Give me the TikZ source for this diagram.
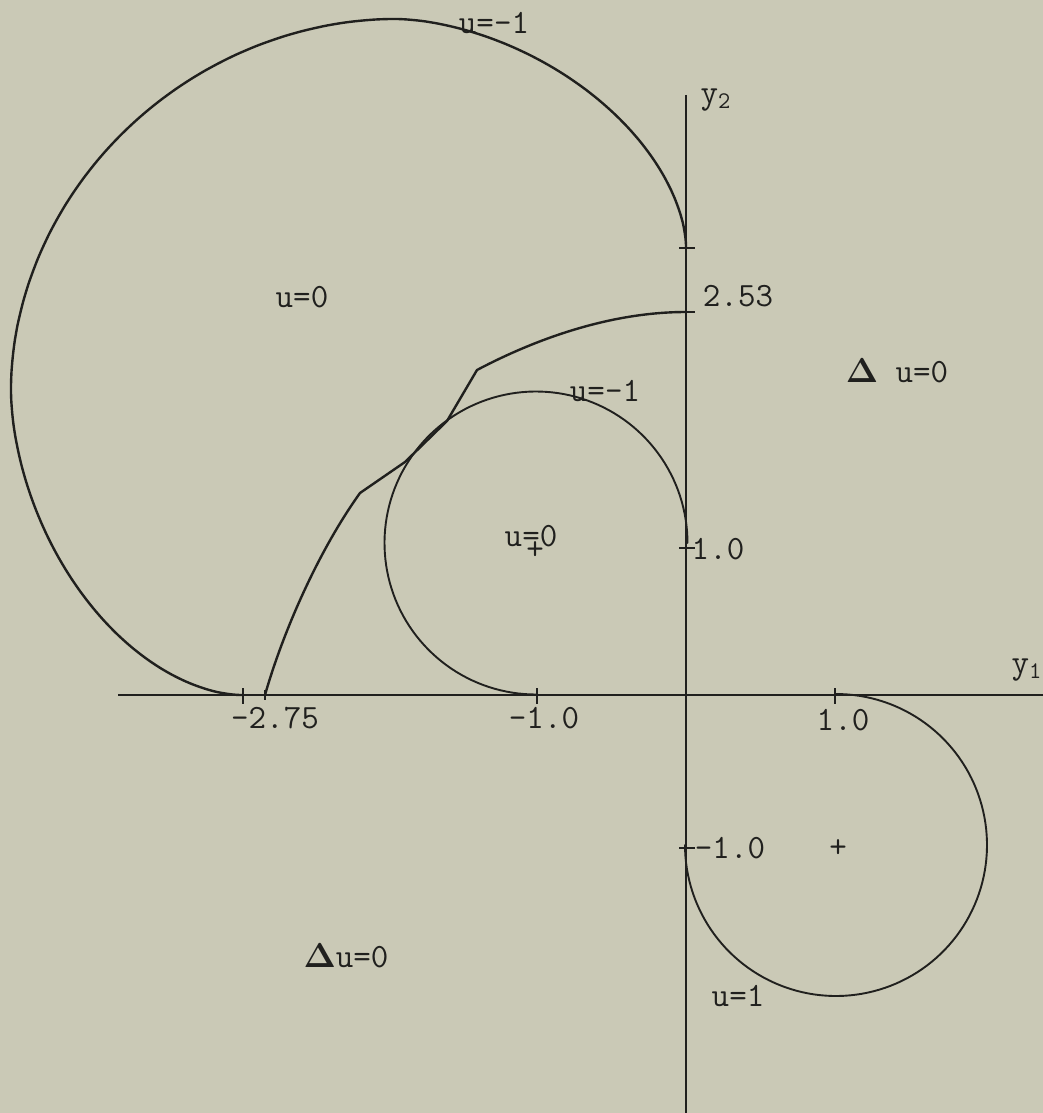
\documentclass[tikz,border=0pt]{standalone}
\definecolor{bg}{RGB}{202,201,182}
\definecolor{ink}{RGB}{32,32,30}
\begin{document}
\begin{tikzpicture}[x=0.5pt,y=-0.5pt,
  lbl/.style={font=\fontsize{17}{19}\selectfont\ttfamily, text=ink, inner sep=0pt},
  axis/.style={draw=ink, line width=0.9pt},
  heavy/.style={draw=ink, line width=1.2pt, line join=round, line cap=round},
  circ/.style={draw=ink, line width=0.95pt, line cap=round}]
\fill[bg] (0,0) rectangle (1043,1113);
\useasboundingbox (0,0) rectangle (1043,1113);
% axes
\coordinate (xl) at (118,695); \coordinate (xr) at (1043,695);
\coordinate (yt) at (686,95);  \coordinate (yb) at (686,1113);
\draw[axis] (xl) -- (xr);
\draw[axis] (yt) -- (yb);
% ticks
\foreach \x in {243,537,835} \draw[axis] (\x,688) -- (\x,704);
\draw[axis] (265,690) -- (265,700);
\foreach \y in {248,312,548,848} \draw[axis] (679,\y) -- (695,\y);
% small circles
\draw[circ] plot[domain=90:360,samples=120] ({536+151.5*cos(\x)},{543+151.5*sin(\x)});
\draw[circ] plot[domain=270:540,samples=120] ({836+151*cos(\x)},{845+151*sin(\x)});
% big curve (three superelliptic quadrants)
\draw[heavy] plot[domain=0:90,samples=90,smooth]
   ({395+291*pow(abs(cos(\x))+0.00001,1.143)},{247-228*pow(abs(sin(\x))+0.00001,1.143)})
  -- plot[domain=90:180,samples=90,smooth]
   ({395-384*pow(abs(cos(\x))+0.00001,1.026)},{390-371*pow(abs(sin(\x))+0.00001,1.026)})
  -- plot[domain=180:270,samples=90,smooth]
   ({242-231*pow(abs(cos(\x))+0.00001,1.111)},{390+305*pow(abs(sin(\x))+0.00001,1.111)});
% switching curve
\coordinate (s0) at (265,695);
\coordinate (s1) at (360,493);
\coordinate (s2) at (405,462);
\coordinate (s3) at (447,421);
\coordinate (s4) at (477,370);
\coordinate (s5) at (686,312);
\draw[heavy] (s0) .. controls (282,635) and (317,553) .. (s1)
  -- (s2) -- (s3) -- (s4) .. controls (530,342) and (606,312) .. (s5);
% labels
\node[lbl] (ltop) at (494,23) {u=-1};
\node[lbl] (ly2) at (716,100) {y\textsubscript{2}};
\node[lbl] (lu0a) at (302,297) {u=0};
\node[lbl] (l253) at (738,296) {2.53};
\node[lbl] (ldr) at (897,371) {$\mathbf{\Delta}$ u=0};
\node[lbl] (lmid) at (605,391) {u=-1};
\node[lbl] (lu0b) at (531,536) {u=0};
\node[lbl] (pl1) at (535,551) {+};
\node[lbl] (l10y) at (718,549) {1.0};
\node[lbl] (ly1) at (1027,670) {y\textsubscript{1}};
\node[lbl] (l275) at (275,718) {-2.75};
\node[lbl] (lm10x) at (544,718) {-1.0};
\node[lbl] (l10x) at (843,720) {1.0};
\node[lbl] (lm10y) at (730,848) {-1.0};
\node[lbl] (pl2) at (838,849) {+};
\node[lbl] (lu1) at (738,996) {u=1};
\node[lbl] (ldl) at (346,956) {$\mathbf{\Delta}$u=0};
\end{tikzpicture}
\end{document}
